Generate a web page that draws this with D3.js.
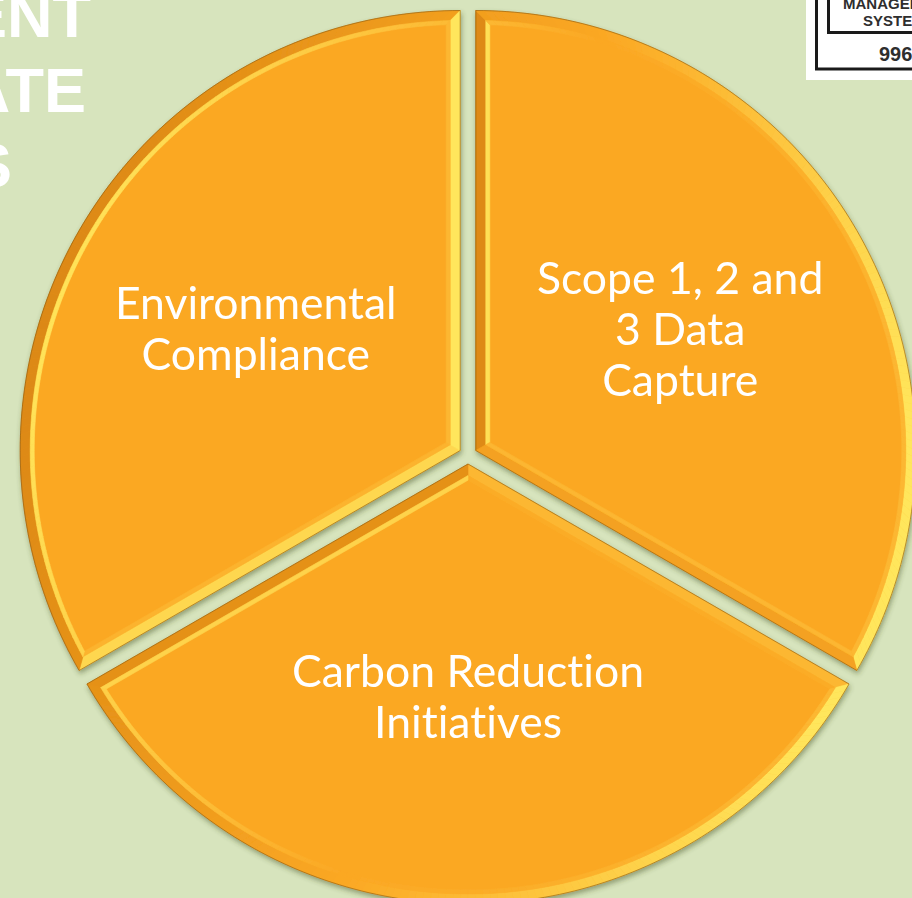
<!DOCTYPE html>
<html>
<head>
<meta charset="utf-8">
<script src="https://cdn.jsdelivr.net/npm/d3@7"></script>
<style>
  html, body { margin: 0; padding: 0; background: #d7e4bd; overflow: hidden; }
  svg { display: block; }
  .label { font-variant-ligatures: none; font-feature-settings: "liga" 0, "clig" 0; }
</style>
</head>
<body>
<div id="chart"></div>
<script>
// Slice content, clockwise from 12 o'clock
var sliceLabels = [
    ["Scope 1, 2 and", "3 Data", "Capture"],
    ["Carbon Reduction", "Initiatives"],
    ["Environmental", "Compliance"]
];
var sliceValues = [1, 1, 1];

// Cropped slide title (left edge) and certification badge (top right)
var titleLines = ["ENVIRONMENT", "& CLIMATE", "SERVICES"];
var badgeLines = ["MANAGEMENT", "SYSTEMS", "9961"];

var width = 912, height = 898;
var cx = 468, cy = 455, R = 440, explode = 9;
var bevelOuter = 10, bevelInner = 14;
var base = "#fba824", dark = "#d98512", yellow = "#ffe65c";
var light = [0.958, 0.287];

var svg = d3.select("#chart").append("svg")
    .attr("width", width)
    .attr("height", height);

var defs = svg.append("defs");
defs.append("filter")
    .attr("id", "shadow")
    .attr("x", "-10%").attr("y", "-10%")
    .attr("width", "120%").attr("height", "120%")
    .append("feDropShadow")
    .attr("dx", 1).attr("dy", 3)
    .attr("stdDeviation", 2.5)
    .attr("flood-color", "#3f4f28")
    .attr("flood-opacity", 0.45);

// Title text, only the line ends are on the slide
svg.append("g")
    .selectAll("text")
    .data(titleLines)
    .join("text")
    .attr("x", (d, i) => [91, 86, 12][i])
    .attr("y", (d, i) => 37 + i * 75)
    .attr("text-anchor", "end")
    .attr("fill", "#ffffff")
    .style("font", "bold 63px 'Liberation Sans', Arial, sans-serif")
    .text(d => d);

// Badge
var badge = svg.append("g");
badge.append("rect")
    .attr("x", 806).attr("y", -2)
    .attr("width", 120).attr("height", 82)
    .attr("fill", "#ffffff");
badge.append("rect")
    .attr("x", 816.5).attr("y", -10)
    .attr("width", 120).attr("height", 79)
    .attr("fill", "none").attr("stroke", "#1a1a1a").attr("stroke-width", 3);
badge.append("rect")
    .attr("x", 828.5).attr("y", -10)
    .attr("width", 120).attr("height", 42.5)
    .attr("fill", "none").attr("stroke", "#1a1a1a").attr("stroke-width", 3);
badge.selectAll("text")
    .data(badgeLines)
    .join("text")
    .attr("x", (d, i) => [843, 863, 879][i])
    .attr("y", (d, i) => [9, 26, 61][i])
    .attr("fill", "#2e2e2e")
    .style("font-family", "'Liberation Sans', Arial, sans-serif")
    .style("font-weight", "bold")
    .style("font-size", (d, i) => i === 2 ? "20px" : "15px")
    .text(d => d);

var pie = d3.pie().value(d => d).sort(null);
var arcs = pie(sliceValues);
var arc = d3.arc().innerRadius(0).outerRadius(R);
var line = d3.line();

// inset outline of a sector at distance t from its border
var contour = (a0, a1, t, n) => {
    let half = (a1 - a0) / 2, mid = a0 + half;
    let pts = [];
    let v = t / Math.sin(half);
    pts.push([v * Math.sin(mid), -v * Math.cos(mid)]);
    let r = R - t;
    let s = Math.sqrt(r * r - t * t);
    let del = Math.atan2(t, s);
    for (let i = 0; i <= n; i++) {
        let a = a0 + del + (a1 - a0 - 2 * del) * i / n;
        pts.push([r * Math.sin(a), -r * Math.cos(a)]);
    }
    return pts;
};

var facetColor = (dot, band) => {
    if (band === 0) {
        return dot > 0
            ? d3.interpolateRgb(base, yellow)(Math.min(1, dot * 1.05))
            : d3.interpolateRgb(base, dark)(Math.min(1, -dot * 0.9));
    }
    return dot < 0
        ? d3.interpolateRgb(base, yellow)(Math.min(1, -dot * 0.95))
        : d3.interpolateRgb(base, yellow)(dot * 0.25);
};

var pieG = svg.append("g")
    .attr("filter", "url(#shadow)");

var slice = pieG.selectAll("g.slice")
    .data(arcs)
    .join("g")
    .attr("class", "slice")
    .attr("transform", d => {
        let mid = (d.startAngle + d.endAngle) / 2;
        return `translate(${cx + explode * Math.sin(mid)}, ${cy - explode * Math.cos(mid)})`;
    });

slice.append("path")
    .attr("d", arc)
    .attr("fill", base);

slice.each(function(d) {
    let g = d3.select(this);
    let a0 = d.startAngle, a1 = d.endAngle, mid = (a0 + a1) / 2;
    let ref = [R * 0.45 * Math.sin(mid), -R * 0.45 * Math.cos(mid)];
    let rings = [0, bevelOuter, bevelInner].map(t => contour(a0, a1, t, 120));
    let facets = [];
    for (let b = 0; b < 2; b++) {
        let c1 = rings[b], c2 = rings[b + 1];
        for (let i = 0; i < c1.length; i++) {
            let j = (i + 1) % c1.length;
            let dx = c1[j][0] - c1[i][0], dy = c1[j][1] - c1[i][1];
            let len = Math.hypot(dx, dy) || 1;
            let nx = dy / len, ny = -dx / len;
            let mx = (c1[i][0] + c1[j][0]) / 2 - ref[0], my = (c1[i][1] + c1[j][1]) / 2 - ref[1];
            if (nx * mx + ny * my < 0) { nx = -nx; ny = -ny; }
            let dot = nx * light[0] + ny * light[1];
            facets.push({ pts: [c1[i], c1[j], c2[j], c2[i]], color: facetColor(dot, b) });
        }
    }
    g.append("g")
        .selectAll("path")
        .data(facets)
        .join("path")
        .attr("d", f => line(f.pts) + "Z")
        .attr("fill", f => f.color)
        .attr("stroke", f => f.color)
        .attr("stroke-width", 0.6)
        .attr("stroke-linejoin", "round");

    g.append("path")
        .attr("d", line(rings[0]) + "Z")
        .attr("fill", "none")
        .attr("stroke", "#8a5a10")
        .attr("stroke-opacity", 0.6)
        .attr("stroke-width", 1);
});

// Labels, placed along each slice's bisector from the pie centre
var fontSize = 44.5, lineH = 51, labelR = 245, labelDy = -4;
svg.append("g")
    .selectAll("text")
    .data(arcs)
    .join("text")
    .attr("class", "label")
    .attr("fill", "#ffffff")
    .attr("text-anchor", "middle")
    .style("font-family", "Lato, 'Open Sans', sans-serif")
    .style("font-size", fontSize + "px")
    .selectAll("tspan")
    .data(d => {
        let mid = (d.startAngle + d.endAngle) / 2;
        let lx = cx + labelR * Math.sin(mid), ly = cy - labelR * Math.cos(mid) + labelDy;
        let lines = sliceLabels[d.index];
        return lines.map((s, k) => ({
            s: s,
            x: lx,
            y: ly + (k - (lines.length - 1) / 2) * lineH + fontSize * 0.36
        }));
    })
    .join("tspan")
    .attr("x", t => t.x)
    .attr("y", t => t.y)
    .text(t => t.s);
</script>
</body>
</html>
